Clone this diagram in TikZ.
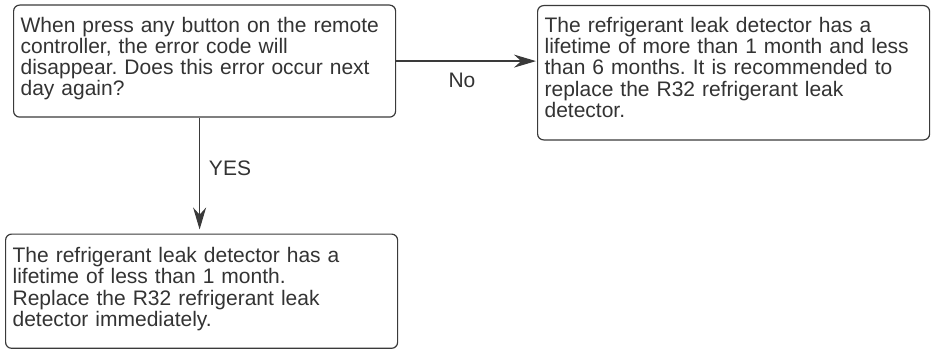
\documentclass[tikz,border=0pt]{standalone}
\usepackage{fontspec}
\setmainfont{Liberation Sans}
\usetikzlibrary{arrows.meta}
\definecolor{txt}{HTML}{333333}
\definecolor{ln}{HTML}{3A3A3A}
\begin{document}
\frenchspacing
\begin{tikzpicture}[x=1pt,y=-1pt,
  box/.style={draw=ln, line width=1.2pt, rounded corners=6pt, anchor=north west,
    align=left, inner xsep=7pt, inner ysep=0pt, text=txt,
    font=\fontsize{21}{21.2}\selectfont},
  conn/.style={draw=ln, line width=1.2pt, -{Stealth[length=22pt,width=13pt]}},
  lbl/.style={text=txt, font=\fontsize{21}{21}\selectfont, inner sep=0pt}]
\useasboundingbox (0,0) rectangle (931,350);
\node[box, minimum width=382pt, text width=368pt, text height=27pt, text depth=85pt] (A) at (13,4.5)
  {\mbox{When press any button on the remote}\\controller, the error code will\\\mbox{disappear. Does this error occur next}\\day again?};
\node[box, minimum width=392pt, text width=378pt, text height=27pt, text depth=107.3pt] (B) at (537,5)
  {The refrigerant leak detector has a\\\mbox{lifetime of more than 1 month and less}\\\mbox{than 6 months. It is recommended to}\\replace the R32 refrigerant leak\\detector.};
\node[box, minimum width=392pt, text width=378pt, text height=28.5pt, text depth=85.7pt] (C) at (5,233.5)
  {The refrigerant leak detector has a\\lifetime of less than 1 month.\\Replace the R32 refrigerant leak\\detector immediately.};
\coordinate (a1) at ([xshift=-5pt]A.south);
\draw[conn, shorten >=4pt] (a1) -- (a1 |- C.north);
\draw[conn, shorten >=1pt] (A.east) -- (A.east -| B.west);
\node[lbl] (yes) at (230,168) {YES};
\node[lbl] (no) at (462,80) {No};
\end{tikzpicture}
\end{document}
